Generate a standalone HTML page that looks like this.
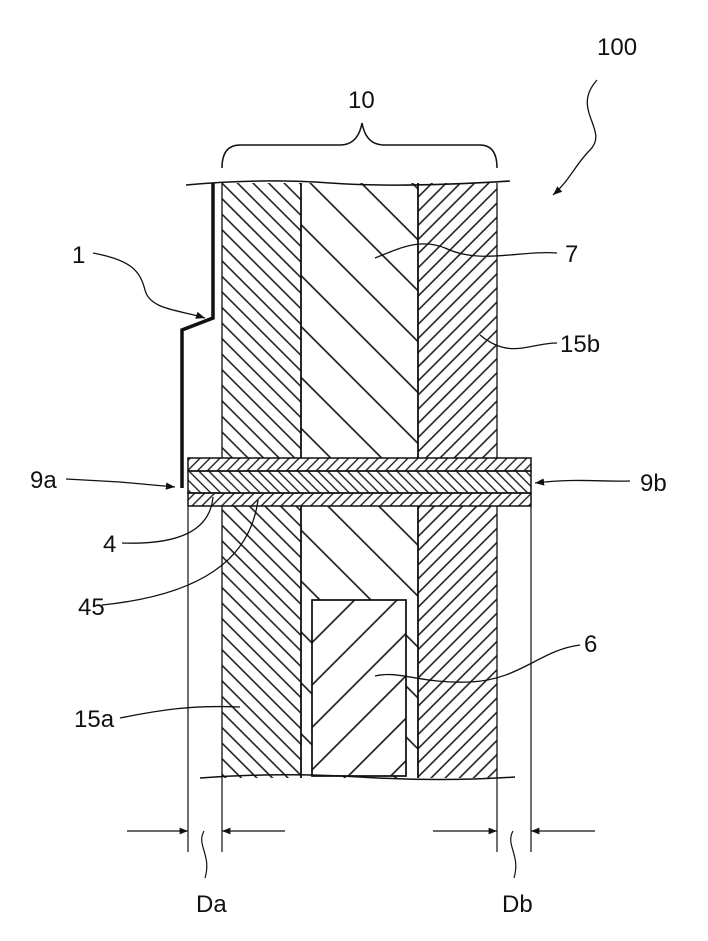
<!DOCTYPE html>
<html><head><style>body{margin:0;background:#fff}svg{display:block}text{font-family:"Liberation Sans",sans-serif;font-size:24px;fill:#111}</style></head><body>
<svg width="708" height="941" viewBox="0 0 708 941" xmlns="http://www.w3.org/2000/svg">
<defs>
<pattern id="bs11" width="11" height="11" patternUnits="userSpaceOnUse" patternTransform="rotate(-45)"><line x1="5.5" y1="0" x2="5.5" y2="11" stroke="#111" stroke-width="1.5"/></pattern>
<pattern id="bs35" width="36" height="36" patternUnits="userSpaceOnUse" patternTransform="rotate(-45)"><line x1="18" y1="0" x2="18" y2="36" stroke="#111" stroke-width="1.6"/></pattern>
<pattern id="fs10" width="10" height="10" patternUnits="userSpaceOnUse" patternTransform="rotate(45)"><line x1="5" y1="0" x2="5" y2="10" stroke="#111" stroke-width="1.5"/></pattern>
<pattern id="fs7" width="7" height="7" patternUnits="userSpaceOnUse" patternTransform="rotate(45)"><line x1="3.5" y1="0" x2="3.5" y2="7" stroke="#111" stroke-width="1.3"/></pattern>
<pattern id="bs7" width="7" height="7" patternUnits="userSpaceOnUse" patternTransform="rotate(-45)"><line x1="3.5" y1="0" x2="3.5" y2="7" stroke="#111" stroke-width="1.3"/></pattern>
<pattern id="fs30" width="30" height="30" patternUnits="userSpaceOnUse" patternTransform="rotate(45)"><line x1="15" y1="0" x2="15" y2="30" stroke="#111" stroke-width="1.6"/></pattern>
<marker id="ah" viewBox="0 0 10 10" refX="10" refY="5" markerWidth="7" markerHeight="7" orient="auto"><path d="M0,1 L10,5 L0,9 z" fill="#111"/></marker>
</defs>
<g stroke="#111" fill="none">
<rect x="222" y="183" width="79" height="595" fill="url(#bs11)" stroke="none"/>
<rect x="301" y="183" width="117" height="595" fill="url(#bs35)" stroke="none"/>
<rect x="418" y="183" width="79" height="595" fill="url(#fs10)" stroke="none"/>
<rect x="312" y="600" width="94" height="176" fill="#fff" stroke="#111" stroke-width="1.5"/>
<rect x="312" y="600" width="94" height="176" fill="url(#fs30)" stroke="#111" stroke-width="1.5"/>
<line x1="222" y1="183" x2="222" y2="778" stroke-width="1.3"/>
<line x1="301" y1="183" x2="301" y2="778" stroke-width="1.8"/>
<line x1="418" y1="183" x2="418" y2="778" stroke-width="1.8"/>
<line x1="497" y1="183" x2="497" y2="778" stroke-width="1.3"/>
<path d="M186,185 Q260,178 330,183 T510,181" stroke-width="1.5" fill="none"/>
<path d="M200,778 Q280,772 360,777 T515,777" stroke-width="1.5" fill="none"/>
<rect x="188" y="458" width="343" height="48" fill="#fff" stroke="none"/>
<rect x="188" y="458" width="343" height="13" fill="url(#fs7)" stroke-width="1.5"/>
<rect x="188" y="471" width="343" height="22" fill="url(#bs7)" stroke-width="1.5"/>
<rect x="188" y="493" width="343" height="13" fill="url(#fs7)" stroke-width="1.5"/>
<line x1="188" y1="506" x2="188" y2="852" stroke-width="1.2"/>
<line x1="531" y1="506" x2="531" y2="852" stroke-width="1.2"/>
<line x1="222" y1="778" x2="222" y2="852" stroke-width="1.2"/>
<line x1="497" y1="778" x2="497" y2="852" stroke-width="1.2"/>
<path d="M213,183 L213,318 L182,330 L182,488" stroke-width="3.5" fill="none"/>
<path d="M222,168 Q222,145 240,145 L340,145 Q358,145 362,123 Q366,145 384,145 L480,145 Q497,145 497,168" stroke-width="1.5"/>
<path d="M93,253 C130,260 140,270 145,290 C150,310 180,310 205,318" stroke-width="1.3" marker-end="url(#ah)"/>
<path d="M597,80 C570,110 610,130 590,150 C575,165 570,180 553,195" stroke-width="1.3" marker-end="url(#ah)"/>
<path d="M66,479 L120,482 L175,487" stroke-width="1.3" marker-end="url(#ah)"/>
<path d="M630,481 C600,482 580,478 535,483" stroke-width="1.3" marker-end="url(#ah)"/>
<path d="M557,253 C520,250 480,265 445,248 C420,238 400,248 375,258" stroke-width="1.3"/>
<path d="M557,343 C530,343 510,360 480,335" stroke-width="1.3"/>
<path d="M122,543 C180,545 210,530 213,497" stroke-width="1.3"/>
<path d="M102,605 C200,595 250,560 258,500" stroke-width="1.3"/>
<path d="M580,645 C540,650 520,680 470,682 C420,684 400,670 375,676" stroke-width="1.3"/>
<path d="M120,718 C160,710 190,705 240,707" stroke-width="1.3"/>
<line x1="127" y1="831" x2="188" y2="831" stroke-width="1.2" marker-end="url(#ah)"/>
<line x1="285" y1="831" x2="222" y2="831" stroke-width="1.2" marker-end="url(#ah)"/>
<line x1="433" y1="831" x2="497" y2="831" stroke-width="1.2" marker-end="url(#ah)"/>
<line x1="595" y1="831" x2="531" y2="831" stroke-width="1.2" marker-end="url(#ah)"/>
<path d="M204,831 C196,845 212,855 205,878" stroke-width="1.2"/>
<path d="M513,831 C505,845 521,855 514,878" stroke-width="1.2"/>
</g>
<text x="597" y="55">100</text>
<text x="348" y="108">10</text>
<text x="72" y="263">1</text>
<text x="565" y="262">7</text>
<text x="560" y="352">15b</text>
<text x="30" y="488">9a</text>
<text x="640" y="491">9b</text>
<text x="103" y="552">4</text>
<text x="78" y="615">45</text>
<text x="584" y="652">6</text>
<text x="74" y="727">15a</text>
<text x="196" y="912">Da</text>
<text x="502" y="912">Db</text>
</svg>
</body></html>
